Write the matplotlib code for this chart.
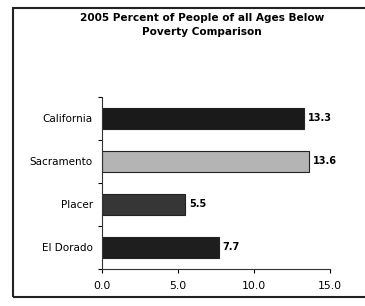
import numpy as np
import matplotlib.pyplot as plt
from matplotlib.patches import Rectangle

plt.rcParams['font.family'] = ['DejaVu Sans']

regions = ['El Dorado', 'Placer', 'Sacramento', 'California']
values = [7.7, 5.5, 13.6, 13.3]
colors = ['#1e1e1e', '#363636', '#b4b4b4', '#1a1a1a']

fig = plt.figure(figsize=(3.65, 3.06), dpi=100)
fig.patch.set_facecolor('white')

# scanned frame round the chart
fig.patches.append(Rectangle((0.036, 0.031), 1.2, 0.943, transform=fig.transFigure,
                             fill=False, edgecolor='#222222', linewidth=1.5))

ax = fig.add_axes([0.279, 0.121, 0.625, 0.562])
y = np.arange(len(regions))
ax.barh(y, values, height=0.47, color=colors, edgecolor='#222222', linewidth=0.8)

for yi, v in zip(y, values):
    ax.text(v + 0.25, yi, f'{v:.1f}', va='center', ha='left', fontsize=7, fontweight='bold')

ax.set_xlim(0, 15)
ax.set_ylim(-0.5, 3.5)
ax.set_xticks([0, 5, 10, 15])
ax.set_xticklabels(['0.0', '5.0', '10.0', '15.0'], fontsize=7.8)
ax.set_yticks(y)
ax.set_yticklabels(regions, fontsize=7.5)
ax.tick_params(axis='y', length=0, pad=6.5)
ax.set_yticks([-0.5, 0.5, 1.5, 2.5, 3.5], minor=True)
ax.tick_params(axis='y', which='minor', length=3, width=0.8)
ax.tick_params(axis='x', length=3, width=0.8, pad=6)

for s in ['top', 'right']:
    ax.spines[s].set_visible(False)
for s in ['left', 'bottom']:
    ax.spines[s].set_linewidth(0.8)
    ax.spines[s].set_color('#333333')

fig.text(0.553, 0.958, '2005 Percent of People of all Ages Below\nPoverty Comparison',
         ha='center', va='top', fontsize=7.6, fontweight='bold', linespacing=1.5)

fig.savefig('out.png', dpi=100)
